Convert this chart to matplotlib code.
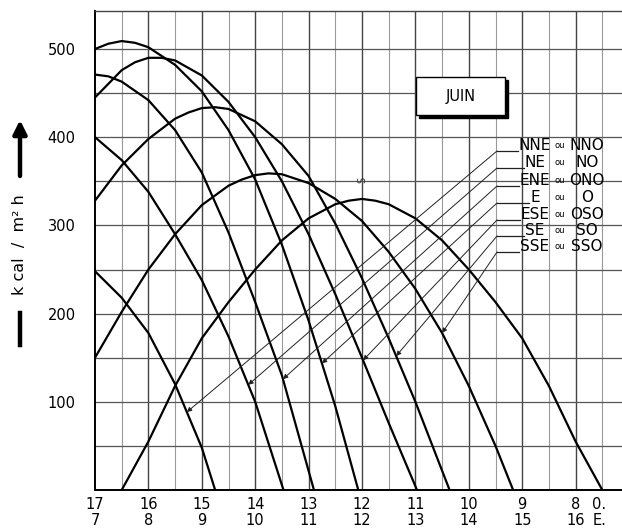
import numpy as np
import matplotlib
matplotlib.use('Agg')
import matplotlib.pyplot as plt
from matplotlib.patches import Rectangle

# Solar gain on vertical walls, June (kcal / m2 h) vs. solar hour (morning scale)
nne_h = [7.0, 7.5, 8.0, 8.5, 9.0, 9.25]
nne_v = [248, 218, 178, 120, 48, 0]

ne_h = [7.0, 7.5, 8.0, 8.5, 9.0, 9.5, 10.0, 10.53]
ne_v = [400, 374, 338, 290, 238, 174, 100, 0]

ene_h = [7.0, 7.25, 7.5, 8.0, 8.5, 9.0, 9.5, 10.0, 10.5, 11.1]
ene_v = [471, 469, 463, 442, 408, 360, 292, 213, 130, 0]

e_h = [7.0, 7.25, 7.5, 7.75, 8.0, 8.5, 9.0, 9.5, 10.0, 10.5, 11.0, 11.5, 11.93]
e_v = [500, 506, 509, 507, 502, 482, 452, 408, 352, 278, 192, 95, 0]

ese_h = [7.0, 7.5, 7.75, 8.0, 8.25, 8.5, 9.0, 9.5, 10.0, 10.5, 11.0, 11.5, 12.0, 12.5, 13.03]
ese_v = [445, 476, 485, 490, 490, 487, 470, 440, 400, 350, 290, 222, 150, 76, 0]

se_h = [7.0, 7.5, 8.0, 8.5, 8.75, 9.0, 9.25, 9.5, 10.0, 10.5, 11.0, 11.5, 12.0, 12.5, 13.0, 13.64]
se_v = [328, 368, 398, 421, 428, 433, 434, 432, 418, 392, 356, 302, 240, 172, 100, 0]

sse_h = [7.0, 7.5, 8.0, 8.5, 9.0, 9.5, 9.75, 10.0, 10.25, 10.5, 11.0, 11.5, 12.0, 12.5, 13.0, 13.5, 14.0, 14.5, 14.83]
sse_v = [150, 202, 250, 290, 323, 345, 352, 357, 359, 358, 348, 330, 305, 270, 228, 178, 118, 50, 0]

s_h = [7.5, 8.0, 8.5, 9.0, 9.5, 10.0, 10.5, 11.0, 11.5, 11.75, 12.0, 12.25, 12.5, 13.0, 13.5, 14.0, 14.5, 15.0, 15.5, 16.0, 16.5]
s_v = [0, 55, 118, 172, 213, 250, 283, 308, 324, 328, 330, 328, 324, 308, 283, 250, 213, 172, 118, 55, 0]

# legend rows (top to bottom) and where their arrows hit the curves
leg_left = ['NNE', 'NE', 'ENE', 'E', 'ESE', 'SE', 'SSE']
leg_right = ['NNO', 'NO', 'ONO', 'O', 'OSO', 'SO', 'SSO']
arrow_hours = [8.72, 9.87, 10.52, 11.25, 12.02, 12.64, 13.5]

x_ticks = [7, 8, 9, 10, 11, 12, 13, 14, 15, 16, 16.44]
x_labels = ['17\n7', '16\n8', '15\n9', '14\n10', '13\n11', '12\n12',
            '11\n13', '10\n14', '9\n15', '8\n16', '0.\nE.']
y_ticks = [100, 200, 300, 400, 500]

curves = [(nne_h, nne_v), (ne_h, ne_v), (ene_h, ene_v), (e_h, e_v),
          (ese_h, ese_v), (se_h, se_v), (sse_h, sse_v)]

W, H = 622, 531
fig = plt.figure(figsize=(W/100, H/100), dpi=100)
ax = fig.add_axes([95/W, 41/H, 527/W, 479/H])
ax.set_xlim(7, 7 + 527/53.4)
ax.set_ylim(0, 479/0.882)

# grid
for hh in np.arange(7.5, 16.6, 0.5):
    if hh % 1 == 0:
        ax.axvline(hh, color='#444444', lw=1.0, zorder=1)
    else:
        ax.axvline(hh, color='#9a9a9a', lw=0.8, zorder=1)
for vv in range(50, 501, 50):
    ax.axhline(vv, color='#555555', lw=0.9, zorder=1)

for spine in ['left', 'bottom']:
    ax.spines[spine].set_linewidth(1.4)
ax.spines['top'].set_linewidth(1.0)
ax.spines['top'].set_color('#444444')
ax.spines['right'].set_visible(False)

# curves
for hh, vv in curves:
    ax.plot(hh, vv, color='black', lw=1.6, zorder=3, solid_joinstyle='round')
ax.plot(s_h, s_v, color='black', lw=1.6, zorder=3, solid_joinstyle='round')
ax.text(12.0, 352, 'S', rotation=90, fontsize=7, ha='center', va='center', color='#333333')

ax.set_xticks(x_ticks)
ax.set_xticklabels(x_labels, fontsize=10.5, linespacing=1.05)
ax.set_yticks(y_ticks)
ax.set_yticklabels([str(v) for v in y_ticks], fontsize=10.5)
ax.tick_params(axis='both', length=0)
ax.tick_params(axis='y', pad=14)
ax.tick_params(axis='x', pad=5)

inv = ax.transData.inverted()
def to_data(px, py):
    return inv.transform((px, H - py))

# JUIN box with shadow
x0, y0 = to_data(416, 115)
x1, y1 = to_data(505, 77)
sx, sy = to_data(419, 118)
sx1, sy1 = to_data(508, 80)
ax.add_patch(Rectangle((sx, sy), sx1 - sx, sy1 - sy, facecolor='black', edgecolor='black', zorder=4))
ax.add_patch(Rectangle((x0, y0), x1 - x0, y1 - y0, facecolor='white', edgecolor='black', lw=1.0, zorder=5))
cx, cy = to_data(461, 96)
ax.text(cx, cy, 'JUIN', fontsize=10.5, ha='center', va='center', zorder=6)

# legend labels with leaders
row_y = [145, 162, 180, 197, 214, 230, 246]
lx, _ = to_data(535, 0)
ox, _ = to_data(560, 0)
rx, _ = to_data(587, 0)
fig.canvas.draw()
renderer = fig.canvas.get_renderer()
for i in range(len(leg_left)):
    _, ty = to_data(0, row_y[i])
    t = ax.text(lx, ty, leg_left[i], fontsize=11, ha='center', va='center', zorder=6)
    ax.text(ox, ty, 'ou', fontsize=6, ha='center', va='center', zorder=6)
    ax.text(rx, ty, leg_right[i], fontsize=11, ha='center', va='center', zorder=6)
    bb = t.get_window_extent(renderer)
    ds, by = to_data(497, row_y[i] + 6)
    de, _ = inv.transform((bb.x0 - 1, 0))
    ax.plot([ds, de], [by, by], color='#222222', lw=0.9, zorder=6)
    hh, vv = curves[i]
    tip = (arrow_hours[i], np.interp(arrow_hours[i], hh, vv))
    ax.annotate('', xy=tip, xytext=(ds, by),
                arrowprops=dict(arrowstyle='-|>', lw=0.7, color='#222222',
                                mutation_scale=7, shrinkA=0, shrinkB=0), zorder=6)

# y axis caption: bar, text, arrow
fx = 20 / W
fig.add_artist(plt.Line2D([fx, fx], [(H - 345)/H, (H - 313)/H], color='black', lw=3.2,
                          transform=fig.transFigure))
fig.text(fx, (H - 245)/H, 'k cal  /  m² h', rotation=90, fontsize=11.5,
         ha='center', va='center')
ax.annotate('', xy=(fx, (H - 120)/H), xytext=(fx, (H - 176)/H),
            xycoords='figure fraction', textcoords='figure fraction',
            arrowprops=dict(arrowstyle='-|>', lw=3.2, color='black',
                            mutation_scale=20, shrinkA=0, shrinkB=0),
            annotation_clip=False)

fig.savefig('out.png', dpi=100)
